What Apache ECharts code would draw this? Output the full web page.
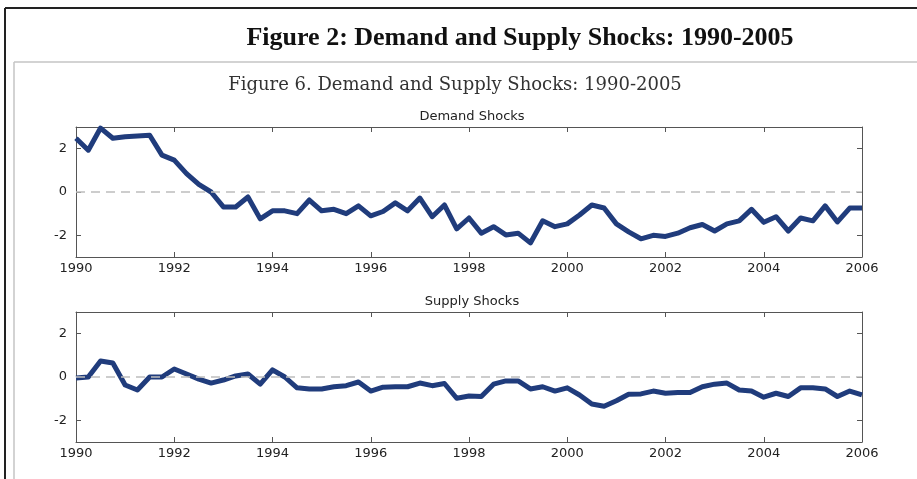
<!DOCTYPE html>
<html>
<head>
  <meta charset="utf-8">
  <title>Demand and Supply Shocks</title>
  <script src="https://cdn.jsdelivr.net/npm/echarts@6.0.0/dist/echarts.min.js"></script>
  <style>
    html, body { margin: 0; padding: 0; background: #fff; }
    #graph { width: 917px; height: 479px; }
  </style>
</head>
<body>
  <div id="graph"></div>

  <script>
    // quarterly values, 1990Q1 .. 2006Q1
    var demand = [
      2.48, 1.93, 2.95, 2.48, 2.55, 2.58, 2.62, 1.70,
      1.47, 0.85, 0.35, 0.00, -0.69, -0.69, -0.23, -1.24,
      -0.87, -0.87, -1.00, -0.37, -0.87, -0.80, -1.00, -0.64,
      -1.10, -0.90, -0.50, -0.87, -0.28, -1.14, -0.60, -1.70,
      -1.20, -1.90, -1.60, -1.98, -1.90, -2.35, -1.33, -1.60,
      -1.47, -1.06, -0.60, -0.74, -1.47, -1.84, -2.16, -2.00,
      -2.05, -1.90, -1.65, -1.50, -1.80, -1.47, -1.33, -0.80,
      -1.40, -1.14, -1.80, -1.20, -1.33, -0.64, -1.38, -0.74,
      -0.74
    ];
    var supply = [
      -0.05, 0.00, 0.74, 0.65, -0.37, -0.60, 0.00, 0.00,
      0.37, 0.14, -0.10, -0.28, -0.14, 0.05, 0.14, -0.33,
      0.33, 0.00, -0.50, -0.55, -0.55, -0.45, -0.40, -0.23,
      -0.65, -0.47, -0.45, -0.45, -0.28, -0.40, -0.30, -0.98,
      -0.88, -0.90, -0.33, -0.18, -0.18, -0.55, -0.45, -0.65,
      -0.50, -0.83, -1.25, -1.35, -1.10, -0.80, -0.78, -0.65,
      -0.75, -0.72, -0.72, -0.45, -0.33, -0.28, -0.60, -0.65,
      -0.93, -0.75, -0.90, -0.50, -0.50, -0.55, -0.90, -0.65,
      -0.83
    ];
    var startYear = 1990;
    var endYear = 2006;
    var yTicks = [-2, 0, 2];

    var pairs = function (vals) {
      return vals.map(function (v, i) { return [startYear + i / 4, v]; });
    };

    var myChart = echarts.init(document.getElementById('graph'));

    var axisCol = '#555';
    var lineCol = '#203c7c';
    var tickFont = { fontFamily: 'DejaVu Sans', fontSize: 13, color: '#222' };

    function xAx(grid, pos) {
      return {
        type: 'value', gridIndex: grid, position: pos,
        min: startYear, max: endYear, interval: 2,
        axisLine: { show: true, onZero: false, lineStyle: { color: axisCol, width: 1 } },
        axisTick: { show: true, inside: true, length: 5, lineStyle: { color: axisCol } },
        axisLabel: Object.assign({
          show: pos === 'bottom', margin: 5,
          formatter: function (v) { return String(v); }
        }, tickFont),
        splitLine: { show: false }
      };
    }
    function yAx(grid, pos) {
      return {
        type: 'value', gridIndex: grid, position: pos,
        min: -3, max: 3,
        axisLine: { show: true, onZero: false, lineStyle: { color: axisCol, width: 1 } },
        axisTick: { show: true, inside: true, length: 5, customValues: yTicks, lineStyle: { color: axisCol } },
        axisLabel: Object.assign({ show: pos === 'left', margin: 9, customValues: yTicks }, tickFont),
        splitLine: { show: false }
      };
    }
    function lineSeries(name, vals, xi, yi) {
      return {
        name: name, type: 'line', xAxisIndex: xi, yAxisIndex: yi,
        data: pairs(vals), showSymbol: false, symbol: 'none',
        lineStyle: { color: lineCol, width: 5, join: 'round' },
        markLine: {
          silent: true, symbol: 'none', label: { show: false },
          lineStyle: { color: '#bdbdbd', type: [9, 6], width: 1.5 },
          data: [{ yAxis: 0 }]
        },
        z: 3
      };
    }

    var option = {
      backgroundColor: '#fff',
      animation: false,
      title: [
        {
          text: 'Figure 2: Demand and Supply Shocks: 1990-2005',
          left: 515, top: 20, textAlign: 'center',
          textStyle: { fontFamily: 'Liberation Serif', fontWeight: 'bold', fontSize: 26, color: '#111' }
        },
        {
          text: 'Figure 6. Demand and Supply Shocks: 1990-2005',
          left: 450, top: 71, textAlign: 'center',
          textStyle: { fontFamily: 'DejaVu Serif', fontWeight: 'normal', fontSize: 18, color: '#333' }
        },
        {
          text: 'Demand Shocks',
          left: 467, top: 105, textAlign: 'center',
          textStyle: { fontFamily: 'DejaVu Sans', fontWeight: 'normal', fontSize: 13, color: '#222' }
        },
        {
          text: 'Supply Shocks',
          left: 467, top: 290, textAlign: 'center',
          textStyle: { fontFamily: 'DejaVu Sans', fontWeight: 'normal', fontSize: 13, color: '#222' }
        }
      ],
      graphic: [
        { type: 'line', shape: { x1: 5, y1: 8, x2: 917, y2: 8 }, style: { stroke: '#222', lineWidth: 2 } },
        { type: 'line', shape: { x1: 5, y1: 8, x2: 5, y2: 479 }, style: { stroke: '#222', lineWidth: 2 } },
        { type: 'line', shape: { x1: 14, y1: 62, x2: 917, y2: 62 }, style: { stroke: '#c4c4c4', lineWidth: 1.5 } },
        { type: 'line', shape: { x1: 14, y1: 62, x2: 14, y2: 479 }, style: { stroke: '#c4c4c4', lineWidth: 1.5 } }
      ],
      grid: [
        { left: 76, top: 127, width: 786, height: 130 },
        { left: 76, top: 312, width: 786, height: 130 }
      ],
      xAxis: [xAx(0, 'bottom'), xAx(0, 'top'), xAx(1, 'bottom'), xAx(1, 'top')],
      yAxis: [yAx(0, 'left'), yAx(0, 'right'), yAx(1, 'left'), yAx(1, 'right')],
      series: [
        lineSeries('Demand Shocks', demand, 0, 0),
        lineSeries('Supply Shocks', supply, 2, 2)
      ]
    };

    myChart.setOption(option);
  </script>
</body>
</html>
